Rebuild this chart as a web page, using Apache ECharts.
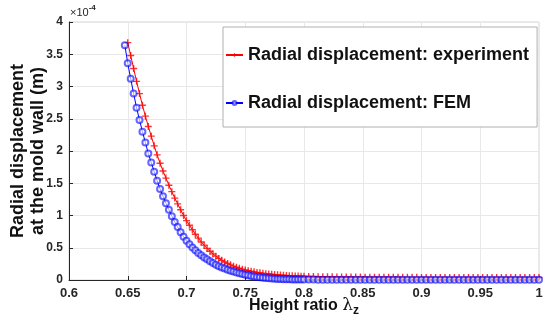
<!DOCTYPE html>
<html><head><meta charset="utf-8">
<script src="https://cdn.jsdelivr.net/npm/echarts@6/dist/echarts.min.js"></script>
<style>html,body{margin:0;padding:0;background:#fff}#c{width:550px;height:334px}</style>
</head><body><div id="c"></div>
<script>
// Height ratio values (shared x for both series)
const heightRatio = [
0.6475,0.6500,0.6525,0.6550,0.6575,0.6600,0.6625,0.6650,0.6675,0.6700,
0.6725,0.6750,0.6775,0.6800,0.6825,0.6850,0.6875,0.6900,0.6925,0.6950,
0.6975,0.7000,0.7025,0.7050,0.7075,0.7100,0.7125,0.7150,0.7175,0.7200,
0.7225,0.7250,0.7275,0.7300,0.7325,0.7350,0.7375,0.7400,0.7425,0.7450,
0.7475,0.7500,0.7525,0.7550,0.7575,0.7600,0.7625,0.7650,0.7675,0.7700,
0.7725,0.7750,0.7775,0.7800,0.7825,0.7850,0.7875,0.7900,0.7925,0.7950,
0.7975,0.8000,
0.804,0.808,0.812,0.816,0.820,0.824,0.828,0.832,0.836,0.840,
0.844,0.848,0.852,0.856,0.860,0.864,0.868,0.872,0.876,0.880,
0.884,0.888,0.892,0.896,0.900,0.904,0.908,0.912,0.916,0.920,
0.924,0.928,0.932,0.936,0.940,0.944,0.948,0.952,0.956,0.960,
0.964,0.968,0.972,0.976,0.980,0.984,0.988,0.992,0.996,1.000];
// Radial displacement, experiment (x1e-4 m)
const experiment = [
null,3.68,3.48,3.28,3.08,2.89,2.71,2.54,2.38,2.23,
2.08,1.94,1.81,1.69,1.58,1.47,1.37,1.27,1.18,1.09,
1.00,0.92,0.85,0.78,0.71,0.65,0.59,0.54,0.49,0.445,
0.405,0.37,0.335,0.305,0.28,0.255,0.235,0.215,0.197,0.182,
0.168,0.155,0.145,0.135,0.126,0.118,0.111,0.104,0.098,0.093,
0.088,0.084,0.080,0.076,0.073,0.070,0.067,0.065,0.063,0.061,
0.059,0.057,
0.055,0.054,0.052,0.051,0.050,0.049,0.048,0.047,0.047,0.046,
0.045,0.045,0.044,0.044,0.043,0.043,0.043,0.042,0.042,0.042,
0.041,0.041,0.041,0.041,0.040,0.040,0.040,0.040,0.040,0.040,
0.040,0.040,0.039,0.039,0.039,0.039,0.039,0.039,0.039,0.039,
0.039,0.039,0.039,0.039,0.039,0.039,0.039,0.039,0.039,0.039];
// Radial displacement, FEM (x1e-4 m)
const fem = [
3.64,3.36,3.12,2.89,2.67,2.48,2.30,2.13,1.96,1.82,
1.68,1.54,1.41,1.30,1.19,1.09,0.99,0.90,0.82,0.74,
0.67,0.61,0.555,0.505,0.46,0.42,0.385,0.35,0.32,0.29,
0.263,0.238,0.215,0.195,0.177,0.16,0.145,0.13,0.117,0.104,
0.093,0.082,0.072,0.063,0.055,0.048,0.042,0.036,0.031,0.027,
0.023,0.020,0.017,0.015,0.013,0.011,0.010,0.009,0.008,0.007,
0.007,0.006,
0.006,0.006,0.005,0.005,0.005,0.005,0.005,0.005,0.005,0.005,
0.005,0.005,0.005,0.005,0.005,0.005,0.005,0.005,0.005,0.005,
0.005,0.005,0.005,0.005,0.005,0.005,0.005,0.005,0.005,0.005,
0.005,0.005,0.005,0.005,0.005,0.005,0.005,0.005,0.005,0.005,
0.005,0.005,0.005,0.005,0.005,0.005,0.005,0.005,0.005,0.005];
const xTicks = ['0.6','0.65','0.7','0.75','0.8','0.85','0.9','0.95','1'];
const yTicks = ['0','0.5','1','1.5','2','2.5','3','3.5','4'];
const seriesNames = ['Radial displacement: experiment','Radial displacement: FEM'];

const chart = echarts.init(document.getElementById('c'));
const FONT = 'Liberation Sans, Arial, sans-serif';
const pair = (ys) => heightRatio.map((x,i)=> ys[i]==null ? null : [x, ys[i]]).filter(p=>p);
const plusPath = 'path://M4,0h2v10h-2zM0,4h10v2h-10z';
chart.setOption({
  animation:false,
  grid:{left:69,right:11,top:22,bottom:54,show:true,borderColor:'#d4d4d4',borderWidth:1},
  xAxis:{type:'value',min:0.6,max:1,interval:0.05,
    axisLine:{lineStyle:{color:'#262626'}},
    axisTick:{inside:true,length:4,lineStyle:{color:'#262626'}},
    splitLine:{lineStyle:{color:'#e8e8e8'}},
    axisLabel:{margin:7,fontFamily:FONT,fontSize:13,fontWeight:'bold',color:'#262626',
      formatter:(v)=>{const i=Math.round((v-0.6)/0.05);return xTicks[i]||'';}}},
  yAxis:{type:'value',min:0,max:4,interval:0.5,
    axisLine:{show:true,lineStyle:{color:'#262626'}},
    axisTick:{show:true,inside:true,length:4,lineStyle:{color:'#262626'}},
    splitLine:{lineStyle:{color:'#e8e8e8'}},
    axisLabel:{margin:6,fontFamily:FONT,fontSize:12,fontWeight:'bold',color:'#262626',
      formatter:(v)=>{const i=Math.round(v/0.5);return yTicks[i]||'';}}},
  legend:{orient:'vertical',left:223,top:27,
    backgroundColor:'#fff',borderColor:'#b0b0b0',borderWidth:1,
    padding:[18,8,14,2],itemGap:28,itemWidth:17,itemHeight:5,
    textStyle:{fontFamily:FONT,fontSize:18,fontWeight:'bold',color:'#111',lineHeight:20},
    data:seriesNames},
  graphic:[
    {type:'text',left:70,top:4,style:{text:'{a|×10}{b|-4}',rich:{
      a:{fontFamily:FONT,fontSize:11,fill:'#262626',padding:[6,0,0,0]},
      b:{fontFamily:FONT,fontSize:8,fontWeight:'bold',fill:'#262626',padding:[0,0,4,0]}}}},
    {type:'text',x:28,y:151,rotation:Math.PI/2,style:{
      text:'Radial displacement\nat the mold wall (m)',align:'center',verticalAlign:'middle',
      fontFamily:FONT,fontSize:18,fontWeight:'bold',fill:'#111',lineHeight:20}},
    {type:'text',x:304,y:306,style:{text:'{a|Height ratio }{b|λ}{c|z}',align:'center',verticalAlign:'middle',
      rich:{a:{fontFamily:FONT,fontSize:16,fontWeight:'bold',fill:'#111'},
            b:{fontFamily:'DejaVu Serif, serif',fontSize:17,fill:'#111'},
            c:{fontFamily:FONT,fontSize:12,fontWeight:'bold',fill:'#111',padding:[10,0,0,0]}}}}
  ],
  series:[
    {name:seriesNames[0],type:'line',data:pair(experiment),symbol:plusPath,symbolSize:7,
     showAllSymbol:true,lineStyle:{color:'#ff0000',width:1},itemStyle:{color:'#ff0000',opacity:0.8},z:3},
    {name:seriesNames[1],type:'line',data:pair(fem),symbol:'emptyCircle',symbolSize:6,
     showAllSymbol:true,lineStyle:{color:'#0000ff',width:1},itemStyle:{color:'#0000ff',borderWidth:1,opacity:0.6},z:4}
  ]
});
</script></body></html>
